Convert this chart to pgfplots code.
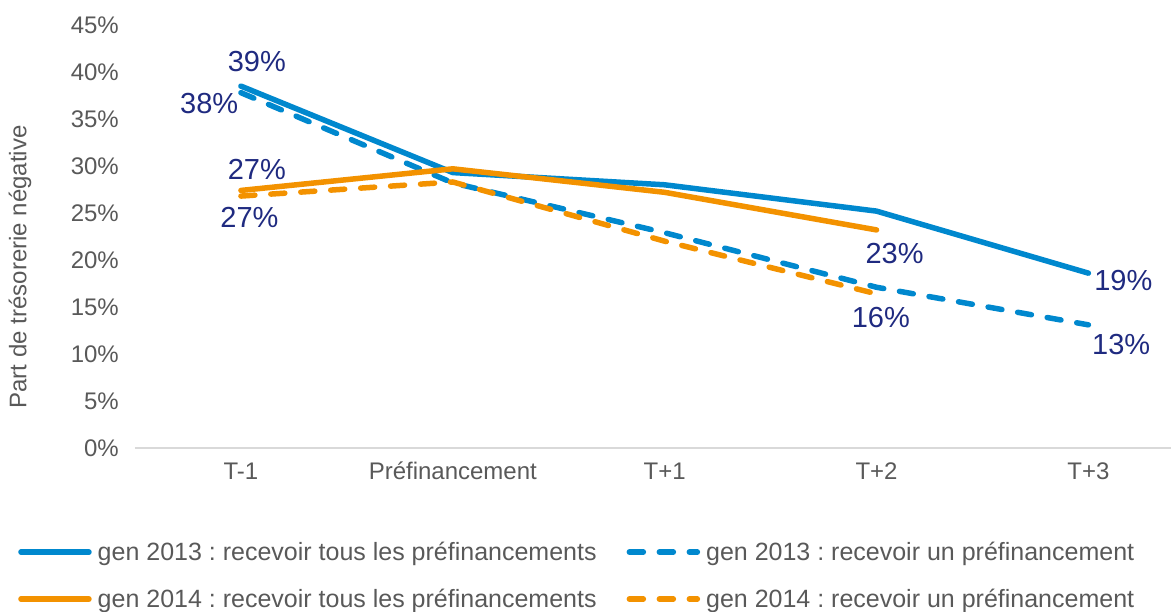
\documentclass[border=0pt]{standalone}
\usepackage{fontspec}
\setmainfont{Liberation Sans}
\usepackage{pgfplots}
\pgfplotsset{compat=1.18}
\definecolor{cblue}{RGB}{0,136,206}
\definecolor{corange}{RGB}{243,146,0}
\definecolor{cnavy}{RGB}{31,42,128}
\definecolor{cgray}{RGB}{89,89,89}
\definecolor{caxis}{RGB}{217,217,217}
\frenchspacing
\begin{document}
\begin{tikzpicture}
\useasboundingbox (-135pt,-164pt) rectangle (1036pt,448pt);
\begin{axis}[
  at={(0pt,0pt)}, anchor=south west,
  scale only axis, width=1036pt, height=423pt,
  xmin=-0.5, xmax=4.39, ymin=0, ymax=45,
  xtick={0,...,4}, xticklabels={T-1,Préfinancement,T+1,T+2,T+3},
  ytick={0,5,...,45},
  yticklabel={\pgfmathprintnumber{\tick}\%},
  /pgf/number format/assume math mode=true,
  ticklabel style={font=\fontsize{24}{28}\selectfont, text=cgray, inner sep=0pt},
  yticklabel style={xshift=-16pt},
  xticklabel style={anchor=base, yshift=-32pt},
  major tick length=0pt,
  axis x line=bottom, axis y line=left,
  x axis line style={draw=caxis, line width=2pt, -},
  y axis line style={draw=none},
  ylabel={Part de trésorerie négative},
  ylabel style={at={(axis description cs:-0.111,0.428)}, anchor=center, font=\fontsize{24}{28}\selectfont, text=cgray},
  clip=false,
  legend columns=2,
  legend style={draw=none, fill=none, at={(axis description cs:-0.1129,-0.2175)}, anchor=north west, font=\fontsize{25}{30}\selectfont, text=cgray, inner sep=0pt, column sep=4pt, row sep=23pt, /tikz/every even column/.append style={column sep=28pt}},
  legend cell align=left,
  legend image code/.code={\draw[#1, line cap=round] (0pt,0pt) -- (68pt,0pt);},
  every axis plot/.append style={line width=5.5pt, line cap=round, line join=round},
]
\addplot[cblue] coordinates {(0,38.5)(1,29.3)(2,28.0)(3,25.2)(4,18.6)};
\addlegendentry{gen 2013 : recevoir tous les préfinancements}
\addplot[cblue, dash pattern=on 14pt off 16pt] coordinates {(0,37.8)(1,28.2)(2,22.9)(3,17.1)(4,13.1)};
\addlegendentry{gen 2013 : recevoir un préfinancement}
\addplot[corange] coordinates {(0,27.4)(1,29.7)(2,27.2)(3,23.2)};
\addlegendentry{gen 2014 : recevoir tous les préfinancements}
\addplot[corange, dash pattern=on 14pt off 16pt] coordinates {(0,26.8)(1,28.3)(2,22.0)(3,16.4)};
\addlegendentry{gen 2014 : recevoir un préfinancement}
\begin{scope}[every node/.style={font=\fontsize{29}{34}\selectfont, text=cnavy}]
\node at (axis cs:0.075,41.1) {39\%};
\node at (axis cs:-0.15,36.7) {38\%};
\node at (axis cs:0.075,29.6) {27\%};
\node at (axis cs:0.04,24.5) {27\%};
\node at (axis cs:3.085,20.7) {23\%};
\node at (axis cs:3.02,13.9) {16\%};
\node at (axis cs:4.165,17.8) {19\%};
\node at (axis cs:4.155,11.0) {13\%};
\end{scope}
\end{axis}
\end{tikzpicture}
\end{document}
